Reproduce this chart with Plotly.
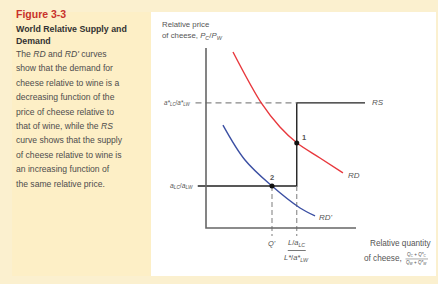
import plotly.graph_objects as go

# ---- data (relative quantity on x, relative price on y; arbitrary units)
rd_q = [1.8, 3.73, 4.93, 6.07, 7.6, 9.13]
rd_p = [9.78, 6.89, 5.61, 4.72, 3.89, 3.06]
rdp_q = [1.13, 2.6, 4.4, 6.27, 7.27]
rdp_p = [5.72, 3.78, 2.33, 1.11, 0.67]
rs_q = 6.05          # L/aLC + L*/a*LW
q_prime = 4.4        # Q'
p_low = 2.33         # aLC/aLW
p_high = 6.95        # a*LC/a*LW
p1 = 4.72            # equilibrium 1 price
axis_max = 10.0
rs_end = 10.6

W, H = 438, 284
FONT = "Liberation Sans, Arial, sans-serif"
GRAY = "#555555"

fig = go.Figure()

# RS curve
fig.add_trace(go.Scatter(x=[-0.55, rs_q, rs_q, rs_end], y=[p_low, p_low, p_high, p_high],
                         mode="lines", line=dict(color="#222222", width=1.4), hoverinfo="skip"))
# dashed world price line
fig.add_trace(go.Scatter(x=[-0.7, rs_q], y=[p_high, p_high], mode="lines",
                         line=dict(color="#888888", width=1.2, dash="6px,4px"), hoverinfo="skip"))
# dashed verticals
for qx, top in [(q_prime, p_low), (rs_q, p_low)]:
    fig.add_trace(go.Scatter(x=[qx, qx], y=[top, -0.45], mode="lines",
                             line=dict(color="#888888", width=1.1, dash="5px,3px"), hoverinfo="skip"))
# RD and RD'
fig.add_trace(go.Scatter(x=rd_q, y=rd_p, mode="lines", line=dict(color="#e8383d", width=1.4, shape="spline"),
                         hoverinfo="skip"))
fig.add_trace(go.Scatter(x=rdp_q, y=rdp_p, mode="lines", line=dict(color="#3b4fa3", width=1.4, shape="spline"),
                         hoverinfo="skip"))
# axes lines
fig.add_trace(go.Scatter(x=[0, 0, axis_max], y=[axis_max, 0, 0], mode="lines",
                         line=dict(color="#666666", width=1.6), hoverinfo="skip"))
# equilibrium points
fig.add_trace(go.Scatter(x=[rs_q, q_prime], y=[p1, p_low], mode="markers",
                         marker=dict(color="#111111", size=5), hoverinfo="skip"))

xr = [-206 / 15, (W - 206) / 15]
yr = [(228 - H) / 18, 228 / 18]

shapes = [
    dict(type="rect", xref="paper", yref="paper", x0=12 / W, x1=151 / W, y0=1 - 276 / H, y1=1 - 12 / H,
         fillcolor="#fdefc6", line=dict(width=0), layer="below"),
    dict(type="rect", xref="paper", yref="paper", x0=151 / W, x1=436 / W, y0=1 - 276 / H, y1=1 - 12 / H,
         fillcolor="#ffffff", line=dict(width=0), layer="below"),
    dict(type="line", xref="x", yref="y", x0=rs_q - 0.6, x1=rs_q + 0.6, y0=-1.25, y1=-1.25,
         line=dict(color=GRAY, width=0.8)),
    dict(type="line", xref="x", yref="y", x0=13.3, x1=14.8, y0=-1.72, y1=-1.72,
         line=dict(color=GRAY, width=0.5)),
]

def ann(x, y, text, size=7, color=GRAY, xanchor="center", ref="x", **kw):
    d = dict(x=x, y=y, text=text, showarrow=False, xanchor=xanchor, yanchor="middle",
             font=dict(family=FONT, size=size, color=color), **kw)
    if ref == "paper":
        d.update(xref="paper", yref="paper")
    else:
        d.update(xref="x", yref="y")
    return d

annotations = [
    ann(-3.1, 11.3, "Relative price", size=7.8, xanchor="left"),
    ann(-3.1, 10.65, "of cheese, <i>P<sub>C</sub></i>/<i>P<sub>W</sub></i>", size=7.8, xanchor="left"),
    ann(-0.85, p_high, "<i>a*<sub>LC</sub></i>/<i>a*<sub>LW</sub></i>", size=6.3, xanchor="right"),
    ann(-0.75, p_low, "<i>a<sub>LC</sub></i>/<i>a<sub>LW</sub></i>", size=6.8, xanchor="right"),
    ann(rs_end + 0.35, p_high, "<i>RS</i>", size=8, xanchor="left"),
    ann(9.35, 2.9, "<i>RD</i>", size=8, xanchor="left"),
    ann(7.4, 0.6, "<i>RD'</i>", size=8, xanchor="left"),
    ann(rs_q + 0.2, p1 + 0.3, "<b>1</b>", size=7.5, xanchor="left"),
    ann(q_prime, p_low + 0.45, "<b>2</b>", size=7.5),
    ann(q_prime, -0.85, "<i>Q'</i>", size=7.5),
    ann(rs_q, -0.85, "<i>L</i>/<i>a<sub>LC</sub></i>", size=7.5),
    ann(rs_q, -1.65, "<i>L*</i>/<i>a*<sub>LW</sub></i>", size=7.5),
    ann(15.15, -0.85, "Relative quantity", size=8.2, xanchor="right"),
    ann(13.2, -1.72, "of cheese,", size=8.2, xanchor="right"),
    ann(14.05, -1.5, "<i>Q<sub>C</sub></i> + <i>Q*<sub>C</sub></i>", size=4.6),
    ann(14.05, -1.94, "<i>Q<sub>W</sub></i> + <i>Q*<sub>W</sub></i>", size=4.6),
    # left panel text
    ann(14 / W, 1 - 14 / H, "<b>Figure 3-3</b>", size=10.5, color="#c8322b", xanchor="left", ref="paper"),
    ann(14 / W, 1 - 29 / H, "<b>World Relative Supply and</b>", size=8.8, color="#333333", xanchor="left", ref="paper"),
    ann(14 / W, 1 - 41 / H, "<b>Demand</b>", size=8.8, color="#333333", xanchor="left", ref="paper"),
]

body = [
    "The <i>RD</i> and <i>RD'</i> curves",
    "show that the demand for",
    "cheese relative to wine is a",
    "decreasing function of the",
    "price of cheese relative to",
    "that of wine, while the <i>RS</i>",
    "curve shows that the supply",
    "of cheese relative to wine is",
    "an increasing function of",
    "the same relative price.",
]
for i, line in enumerate(body):
    annotations.append(ann(14 / W, 1 - (54 + i * 14.4) / H, line, size=8.6, color="#4d4d4d",
                           xanchor="left", ref="paper"))

fig.update_layout(
    width=W, height=H, margin=dict(l=0, r=0, t=0, b=0),
    paper_bgcolor="#fbf0cf", plot_bgcolor="rgba(0,0,0,0)", showlegend=False,
    xaxis=dict(range=xr, visible=False, fixedrange=True),
    yaxis=dict(range=yr, visible=False, fixedrange=True),
    shapes=shapes, annotations=annotations,
)
fig.write_html("out.html", config=dict(displayModeBar=False),
               post_script="document.body.style.margin='0';document.body.style.padding='0';")
